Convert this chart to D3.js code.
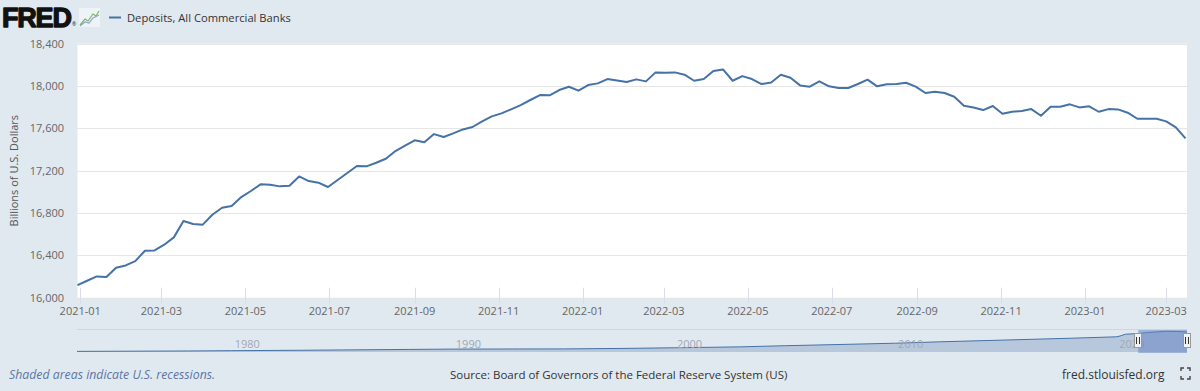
<!DOCTYPE html>
<html><head><meta charset="utf-8">
<script src="https://cdn.jsdelivr.net/npm/d3@7/dist/d3.min.js"></script>
<style>
html,body{margin:0;padding:0;background:#e1e9f0;}
svg{display:block;font-family:"Open Sans",sans-serif;}
</style></head>
<body>
<svg id="chart" width="1200" height="391"></svg>
<script>
// ---------- DATA ----------
const seriesName = "Deposits, All Commercial Banks";
const startDate = "2020-12-30"; // first weekly observation (Wednesdays)
const depositValues = [
16119,16160,16201,16195,16283,16305,16346,16444,16447,16501,
16570,16724,16696,16690,16784,16850,16866,16951,17008,17071,
17068,17052,17058,17146,17102,17087,17046,17112,17178,17244,
17241,17275,17313,17386,17436,17487,17468,17546,17518,17553,
17590,17613,17666,17713,17742,17780,17820,17868,17915,17912,
17962,17993,17956,18009,18025,18066,18053,18038,18063,18044,
18129,18126,18129,18107,18050,18066,18142,18157,18050,18094,
18066,18019,18034,18107,18079,18006,17994,18044,17997,17981,
17981,18019,18060,17997,18016,18019,18031,17994,17934,17946,
17934,17899,17814,17798,17773,17811,17738,17757,17764,17782,
17719,17805,17805,17827,17798,17808,17757,17782,17779,17748,
17691,17691,17691,17666,17609,17505];
const yTicks = [16000,16400,16800,17200,17600,18000,18400];
const xTickDates = ["2021-01-01","2021-03-01","2021-05-01","2021-07-01","2021-09-01","2021-11-01",
  "2022-01-01","2022-03-01","2022-05-01","2022-07-01","2022-09-01","2022-11-01","2023-01-01","2023-03-01"];
// navigator (full history, approximate)
const navDates = ["1973-01-03","1975-01-01","1978-01-04","1980-01-02","1983-01-05","1985-01-02","1988-01-06",
  "1990-01-03","1993-01-06","1995-01-04","1998-01-07","2000-01-05","2003-01-01","2005-01-05","2008-01-02",
  "2010-01-06","2012-01-04","2015-01-07","2018-01-03","2020-01-01","2020-03-04","2020-06-03","2020-12-30",
  "2021-06-02","2022-04-13","2022-12-28","2023-03-15"];
const navValues = [560,680,900,1150,1500,1800,2250,2550,2650,2700,3200,3700,4500,5500,6800,
  7700,8900,10500,12100,13300,14000,15600,16119,17070,18157,17800,17505];
const navTickYears = ["1980","1990","2000","2010","2020"];
const footerLeft = "Shaded areas indicate U.S. recessions.";
const footerSource = "Source: Board of Governors of the Federal Reserve System (US)";
const footerRight = "fred.stlouisfed.org";
const yLabel = "Billions of U.S. Dollars";

// ---------- SETUP ----------
const parse = d3.timeParse("%Y-%m-%d");
const t0 = parse(startDate);
const data = depositValues.map((v,i)=>({date:d3.timeDay.offset(t0,7*i), value:v}));
const svg = d3.select("#chart");
const lineColor = "#4572a7";

const plot = {left:77.5, right:1187, top:43.7, bottom:297.7};
const x = d3.scaleTime().domain([data[0].date, data[data.length-1].date]).range([plot.left, plot.right-1.5]);
const y = d3.scaleLinear().domain([16000,18400]).range([plot.bottom, plot.top]);

// plot background
svg.append("rect").attr("x",plot.left).attr("y",plot.top).attr("width",plot.right-plot.left)
  .attr("height",plot.bottom-plot.top).attr("fill","#ffffff");

// gridlines
svg.append("g").selectAll("line").data(yTicks).join("line")
  .attr("x1",plot.left).attr("x2",plot.right)
  .attr("y1",d=>Math.round(y(d))+0.5).attr("y2",d=>Math.round(y(d))+0.5)
  .attr("stroke","#e6e6e6").attr("stroke-width",1);

// y labels
svg.append("g").selectAll("text").data(yTicks).join("text")
  .attr("x",64).attr("y",d=>y(d)+4).attr("text-anchor","end")
  .attr("font-size",11).attr("fill","#666666").text(d3.format(","));

// y axis title
svg.append("text").attr("transform","translate(18,"+((plot.top+plot.bottom)/2)+") rotate(-90)")
  .attr("text-anchor","middle").attr("font-size",11).attr("fill","#555555").text(yLabel);

// x axis ticks & labels
const xt = xTickDates.map(parse);
const xg = svg.append("g");
xg.selectAll("line").data(xt).join("line")
  .attr("x1",d=>Math.round(x(d))+0.5).attr("x2",d=>Math.round(x(d))+0.5)
  .attr("y1",plot.bottom-10).attr("y2",plot.bottom+6)
  .attr("stroke","#d8dde6").attr("stroke-width",1);
xg.selectAll("text").data(xt).join("text")
  .attr("x",d=>x(d)).attr("y",plot.bottom+17).attr("text-anchor","middle")
  .attr("font-size",11).attr("fill","#666666").text(d3.timeFormat("%Y-%m"));

// series line
svg.append("path").datum(data)
  .attr("d",d3.line().x(d=>x(d.date)).y(d=>y(d.value)))
  .attr("fill","none").attr("stroke",lineColor).attr("stroke-width",2).attr("stroke-linejoin","round");

// ---------- NAVIGATOR ----------
const nav = {left:77, right:1187, top:329, bottom:352};
const navData = navDates.map((d,i)=>({date:parse(d), value:navValues[i]}));
const nx = d3.scaleTime().domain([navData[0].date, navData[navData.length-1].date]).range([nav.left, nav.right]);
const ny = d3.scaleLinear().domain([0,18400]).range([nav.bottom, nav.top+2]);
svg.append("line").attr("x1",nav.left).attr("x2",nav.right).attr("y1",nav.top+0.5).attr("y2",nav.top+0.5)
  .attr("stroke","#cfd6df");
svg.append("path").datum(navData)
  .attr("d",d3.area().x(d=>nx(d.date)).y0(nav.bottom).y1(d=>ny(d.value)))
  .attr("fill","#a9bcd6").attr("fill-opacity",0.75);
svg.append("path").datum(navData)
  .attr("d",d3.line().x(d=>nx(d.date)).y(d=>ny(d.value)))
  .attr("fill","none").attr("stroke",lineColor).attr("stroke-width",1);
svg.append("g").selectAll("text").data(navTickYears).join("text")
  .attr("x",d=>nx(parse(d+"-01-01"))+3).attr("y",348)
  .attr("font-size",11).attr("fill","#a0a8b4").text(d=>d);
// selection mask
const selL = nx(data[0].date), selR = nx(data[data.length-1].date);
svg.append("rect").attr("x",selL).attr("y",nav.top+1).attr("width",selR-selL).attr("height",nav.bottom-nav.top)
  .attr("fill","rgba(102,133,194,0.55)");
// handles
[selL, selR].forEach(hx=>{
  const g = svg.append("g").attr("transform","translate("+Math.round(hx)+",333)");
  g.append("rect").attr("x",-3.5).attr("y",0.5).attr("width",7).attr("height",14)
    .attr("fill","#f2f2f2").attr("stroke","#999999").attr("stroke-width",1);
  g.append("path").attr("d","M-1.5,4V11M1.5,4V11").attr("stroke","#333").attr("stroke-width",1);
});

// ---------- HEADER ----------
svg.append("text").attr("x",2).attr("y",27).attr("font-family","'Liberation Sans',Arial,sans-serif")
  .attr("font-weight",700).attr("font-size",27).attr("letter-spacing",-1.2)
  .attr("fill","#111").attr("stroke","#111").attr("stroke-width",1.3).attr("stroke-linejoin","round").text("FRED");
svg.append("text").attr("x",72).attr("y",26).attr("font-size",5).attr("fill","#111").text("®");
// small icon
const ic = svg.append("g").attr("transform","translate(79,8)");
ic.append("rect").attr("width",21).attr("height",19).attr("fill","#eef3f7");
ic.append("path").attr("d","M1,17 L6,11 L9,13 L14,6 L17,8 L20,3").attr("fill","none").attr("stroke","#7fb36b").attr("stroke-width",1.2);
ic.append("path").attr("d","M1,18 L6,14 L10,15 L14,10 L20,7").attr("fill","none").attr("stroke","#8aa7c9").attr("stroke-width",1.2);
// legend
svg.append("line").attr("x1",109).attr("x2",121).attr("y1",17.5).attr("y2",17.5).attr("stroke",lineColor).attr("stroke-width",2);
svg.append("text").attr("x",127).attr("y",21.5).attr("font-size",11.2).attr("fill","#333333").text(seriesName);

// ---------- FOOTER ----------
svg.append("text").attr("x",9).attr("y",379).attr("font-size",12.3).attr("font-style","italic")
  .attr("fill","#5b76a3").text(footerLeft);
svg.append("text").attr("x",450).attr("y",379).attr("font-size",11.5).attr("fill","#333333").text(footerSource);
svg.append("text").attr("x",1062).attr("y",379).attr("font-size",12).attr("fill","#333333").text(footerRight);
// fullscreen icon
svg.append("path").attr("d","M1181,371v-3h3M1187,368h3v3M1190,376v3h-3M1184,379h-3v-3")
  .attr("fill","none").attr("stroke","#444").attr("stroke-width",1.4);
</script>
</body></html>
